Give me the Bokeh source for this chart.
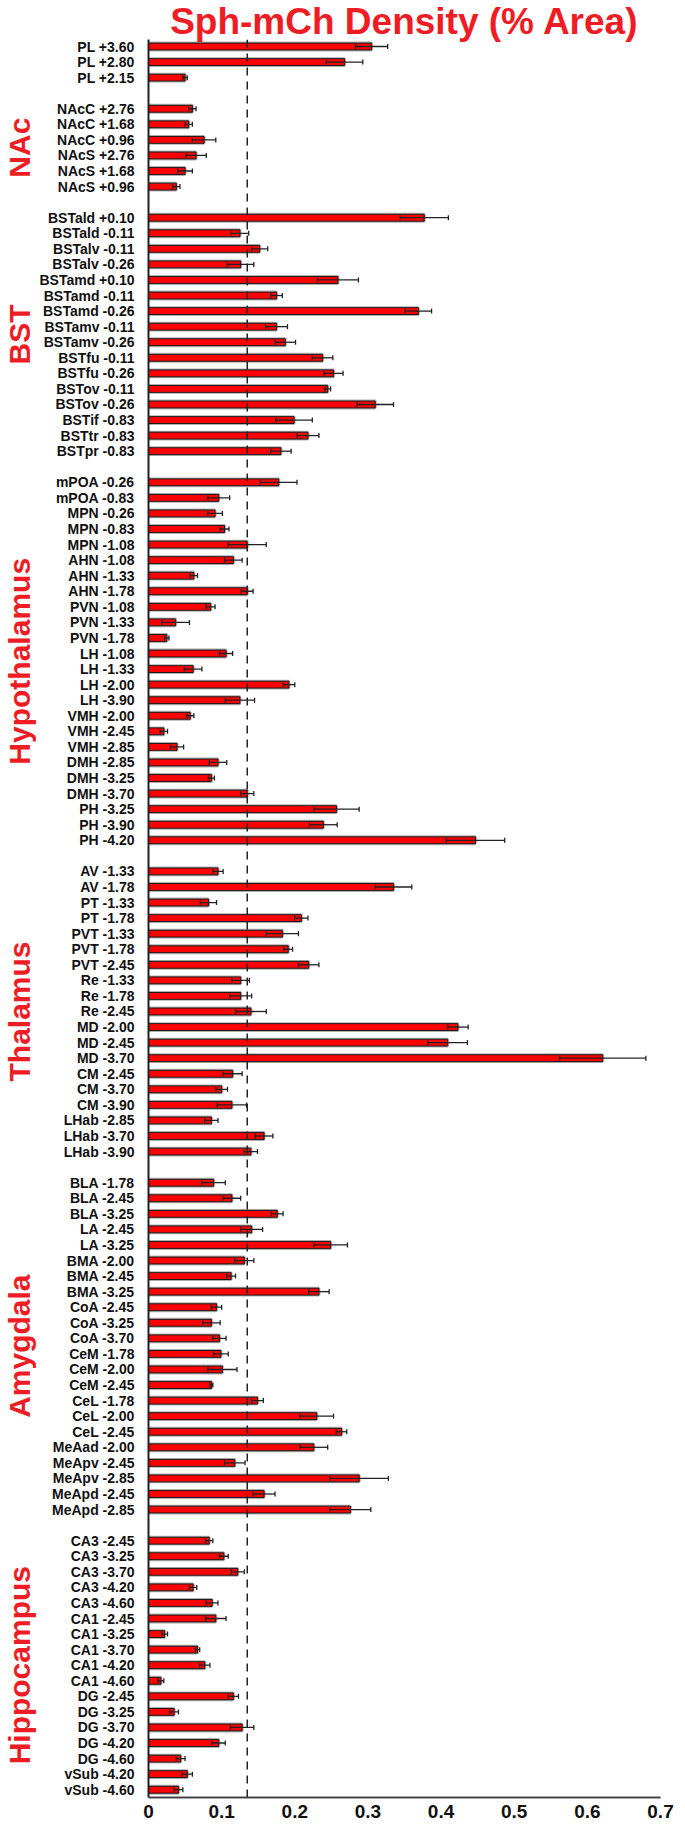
from bokeh.plotting import figure
from bokeh.models import Range1d, FixedTicker, Whisker, Span, ColumnDataSource, TeeHead, LinearAxis
from bokeh.embed import file_html
from bokeh.resources import INLINE

# ---------------- data ----------------
PL_labels = ["PL +3.60", "PL +2.80", "PL +2.15"]
PL_mean = [0.305, 0.268, 0.050]
PL_sem = [0.022, 0.025, 0.003]

NAc_labels = ["NAcC +2.76", "NAcC +1.68", "NAcC +0.96", "NAcS +2.76", "NAcS +1.68", "NAcS +0.96"]
NAc_mean = [0.060, 0.055, 0.076, 0.065, 0.050, 0.038]
NAc_sem = [0.005, 0.005, 0.016, 0.014, 0.010, 0.005]

BST_labels = ["BSTald +0.10", "BSTald -0.11", "BSTalv -0.11", "BSTalv -0.26", "BSTamd +0.10",
              "BSTamd -0.11", "BSTamd -0.26", "BSTamv -0.11", "BSTamv -0.26", "BSTfu -0.11",
              "BSTfu -0.26", "BSTov -0.11", "BSTov -0.26", "BSTif -0.83", "BSTtr -0.83", "BSTpr -0.83"]
BST_mean = [0.377, 0.125, 0.152, 0.126, 0.259, 0.175, 0.369, 0.175, 0.187, 0.238,
            0.253, 0.245, 0.310, 0.199, 0.218, 0.181]
BST_sem = [0.033, 0.012, 0.011, 0.018, 0.028, 0.008, 0.018, 0.015, 0.014, 0.014,
           0.013, 0.004, 0.025, 0.025, 0.015, 0.014]

HYP_labels = ["mPOA -0.26", "mPOA -0.83", "MPN -0.26", "MPN -0.83", "MPN -1.08", "AHN -1.08",
              "AHN -1.33", "AHN -1.78", "PVN -1.08", "PVN -1.33", "PVN -1.78", "LH -1.08",
              "LH -1.33", "LH -2.00", "LH -3.90", "VMH -2.00", "VMH -2.45", "VMH -2.85",
              "DMH -2.85", "DMH -3.25", "DMH -3.70", "PH -3.25", "PH -3.90", "PH -4.20"]
HYP_mean = [0.178, 0.096, 0.091, 0.104, 0.135, 0.116, 0.062, 0.135, 0.085, 0.037, 0.025, 0.106,
            0.061, 0.192, 0.125, 0.057, 0.021, 0.039, 0.095, 0.086, 0.135, 0.257, 0.239, 0.447]
HYP_sem = [0.025, 0.015, 0.010, 0.006, 0.026, 0.012, 0.005, 0.008, 0.006, 0.019, 0.003, 0.009,
           0.012, 0.008, 0.020, 0.005, 0.005, 0.009, 0.012, 0.004, 0.009, 0.031, 0.019, 0.040]

THAL_labels = ["AV -1.33", "AV -1.78", "PT -1.33", "PT -1.78", "PVT -1.33", "PVT -1.78",
               "PVT -2.45", "Re -1.33", "Re -1.78", "Re -2.45", "MD -2.00", "MD -2.45",
               "MD -3.70", "CM -2.45", "CM -3.70", "CM -3.90", "LHab -2.85", "LHab -3.70", "LHab -3.90"]
THAL_mean = [0.095, 0.335, 0.082, 0.209, 0.183, 0.191, 0.219, 0.126, 0.126, 0.140, 0.423, 0.409,
             0.621, 0.115, 0.100, 0.114, 0.086, 0.158, 0.140]
THAL_sem = [0.007, 0.025, 0.011, 0.009, 0.022, 0.006, 0.014, 0.012, 0.015, 0.021, 0.014, 0.027,
            0.059, 0.013, 0.008, 0.020, 0.009, 0.012, 0.009]

AMY_labels = ["BLA -1.78", "BLA -2.45", "BLA -3.25", "LA -2.45", "LA -3.25", "BMA -2.00",
              "BMA -2.45", "BMA -3.25", "CoA -2.45", "CoA -3.25", "CoA -3.70", "CeM -1.78",
              "CeM -2.00", "CeM -2.45", "CeL -1.78", "CeL -2.00", "CeL -2.45", "MeAad -2.00",
              "MeApv -2.45", "MeApv -2.85", "MeApd -2.45", "MeApd -2.85"]
AMY_mean = [0.089, 0.114, 0.176, 0.141, 0.249, 0.131, 0.113, 0.233, 0.093, 0.086, 0.097, 0.099,
            0.101, 0.086, 0.149, 0.230, 0.264, 0.226, 0.118, 0.288, 0.158, 0.276]
AMY_sem = [0.016, 0.012, 0.008, 0.015, 0.023, 0.013, 0.006, 0.014, 0.007, 0.012, 0.009, 0.010,
           0.020, 0.002, 0.008, 0.023, 0.007, 0.019, 0.014, 0.040, 0.015, 0.028]

HIP_labels = ["CA3 -2.45", "CA3 -3.25", "CA3 -3.70", "CA3 -4.20", "CA3 -4.60", "CA1 -2.45",
              "CA1 -3.25", "CA1 -3.70", "CA1 -4.20", "CA1 -4.60", "DG -2.45", "DG -3.25",
              "DG -3.70", "DG -4.20", "DG -4.60", "vSub -4.20", "vSub -4.60"]
HIP_mean = [0.083, 0.103, 0.122, 0.061, 0.087, 0.092, 0.022, 0.067, 0.077, 0.017, 0.116, 0.035,
            0.128, 0.096, 0.044, 0.053, 0.041]
HIP_sem = [0.005, 0.006, 0.009, 0.005, 0.008, 0.014, 0.004, 0.003, 0.007, 0.004, 0.007, 0.006,
           0.016, 0.009, 0.006, 0.007, 0.006]

group_names = ["", "NAc", "BST", "Hypothalamus", "Thalamus", "Amygdala", "Hippocampus"]
x_ticks = [0, 0.1, 0.2, 0.3, 0.4, 0.5, 0.6, 0.7]
x_tick_labels = ["0", "0.1", "0.2", "0.3", "0.4", "0.5", "0.6", "0.7"]
threshold = 0.135
title_text = "Sph-mCh Density (% Area)"

groups = [
    (PL_labels, PL_mean, PL_sem),
    (NAc_labels, NAc_mean, NAc_sem),
    (BST_labels, BST_mean, BST_sem),
    (HYP_labels, HYP_mean, HYP_sem),
    (THAL_labels, THAL_mean, THAL_sem),
    (AMY_labels, AMY_mean, AMY_sem),
    (HIP_labels, HIP_mean, HIP_sem),
]

# ---------------- category slots (one empty slot between groups) ----------------
labels, means, sems, ys = [], [], [], []
group_pos, group_txt = [], []
pos = 0
for name, (gl, gm, gs) in zip(group_names, groups):
    start = pos
    for l, m, s in zip(gl, gm, gs):
        labels.append(l)
        means.append(m)
        sems.append(s)
        ys.append(pos)
        pos += 1
    if name:
        group_pos.append((start + pos - 1) / 2)
        group_txt.append(name)
    pos += 1
n_slots = pos - 1

src = ColumnDataSource(dict(
    y=ys, mean=means,
    lower=[m - s for m, s in zip(means, sems)],
    upper=[m + s for m, s in zip(means, sems)],
))

FONT = "Liberation Sans"
RED_TXT = "#EE1C24"

p = figure(width=677, height=1826, output_backend="svg", toolbar_location=None,
           x_range=Range1d(0, 0.7), y_range=Range1d(n_slots - 1 + 0.5, -0.45),
           min_border_left=144, min_border_right=17, min_border_top=39, min_border_bottom=29)
p.outline_line_color = None
p.xgrid.visible = False
p.ygrid.visible = False
p.background_fill_color = "white"
p.border_fill_color = "white"

# title
p.title.text = title_text
p.title.align = "center"
p.title.text_font = FONT
p.title.text_font_style = "bold"
p.title.text_font_size = "37px"
p.title.text_color = RED_TXT
p.title.standoff = -5

# bars: soft grey halo + red bar with dark outline
p.hbar(y="y", right="mean", left=0, height=0.44, source=src,
       fill_color=None, line_color="#b0b0b0", line_width=3)
p.hbar(y="y", right="mean", left=0, height=0.44, source=src,
       fill_color="#FF0000", line_color="#1a1a1a", line_width=1)

# error bars
w = Whisker(base="y", lower="lower", upper="upper", dimension="width", source=src,
            line_color="#222222", line_width=1.3, level="annotation",
            upper_head=TeeHead(size=5, line_color="#222222", line_width=1.3),
            lower_head=TeeHead(size=5, line_color="#222222", line_width=1.3))
p.add_layout(w)

# dashed threshold line
p.add_layout(Span(location=threshold, dimension="height", line_color="#222222",
                  line_width=1.5, line_dash="8 6", level="overlay"))

# y axis (region labels)
p.yaxis.ticker = FixedTicker(ticks=ys, minor_ticks=[])
p.yaxis.major_label_overrides = {y: l for y, l in zip(ys, labels)}
p.yaxis.major_label_text_font = FONT
p.yaxis.major_label_text_font_style = "bold"
p.yaxis.major_label_text_font_size = "14px"
p.yaxis.major_label_text_color = "#111111"
p.yaxis.major_label_standoff = 14
p.yaxis.major_tick_out = 0
p.yaxis.major_tick_in = 0
p.yaxis.minor_tick_out = 0
p.yaxis.minor_tick_in = 0
p.yaxis.axis_line_color = "#222222"
p.yaxis.axis_line_width = 2

# outer left axis carrying the rotated group names
gax = LinearAxis(ticker=FixedTicker(ticks=group_pos, minor_ticks=[]),
                 major_label_overrides={g: t for g, t in zip(group_pos, group_txt)},
                 major_label_orientation="vertical",
                 major_label_text_font=FONT, major_label_text_font_style="bold",
                 major_label_text_font_size="30px", major_label_text_color=RED_TXT,
                 major_label_standoff=0, axis_line_color=None,
                 major_tick_out=0, major_tick_in=0, minor_tick_out=0, minor_tick_in=0)
p.add_layout(gax, "left")

# x axis
p.xaxis.ticker = FixedTicker(ticks=x_ticks, minor_ticks=[])
p.xaxis.major_label_overrides = {t: l for t, l in zip(x_ticks, x_tick_labels)}
p.xaxis.major_label_text_font = FONT
p.xaxis.major_label_text_font_style = "bold"
p.xaxis.major_label_text_font_size = "19px"
p.xaxis.major_label_text_color = "#111111"
p.xaxis.major_label_standoff = 7
p.xaxis.major_tick_out = 0
p.xaxis.major_tick_in = 0
p.xaxis.minor_tick_out = 0
p.xaxis.minor_tick_in = 0
p.xaxis.axis_line_color = "#444444"
p.xaxis.axis_line_width = 2

open("out.html", "w").write(file_html(p, INLINE))
